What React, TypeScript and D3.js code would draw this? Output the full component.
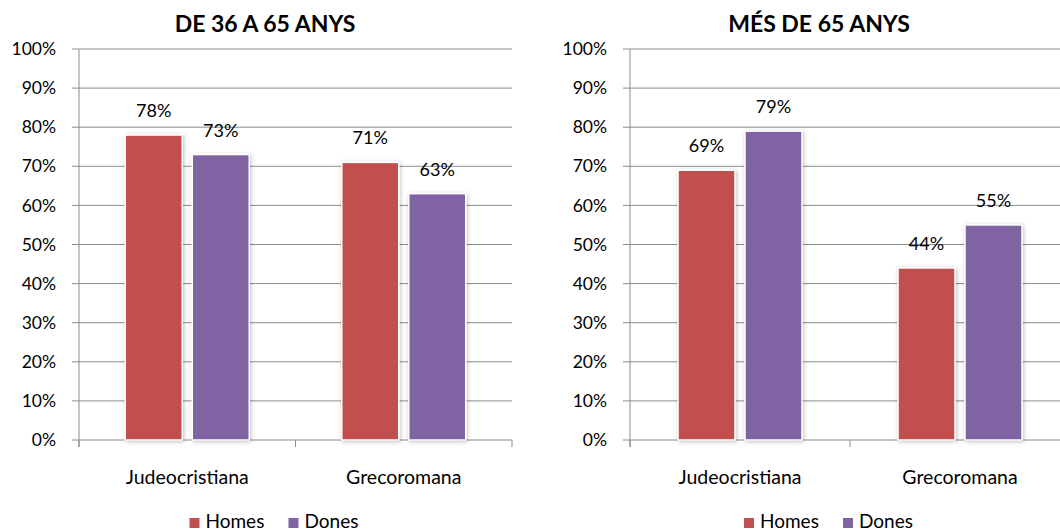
import React from "react";
import * as d3 from "d3";

const categories = ["Judeocristiana", "Grecoromana"];
const seriesNames = ["Homes", "Dones"];
const panelTitles = ["DE 36 A 65 ANYS", "MÉS DE 65 ANYS"];
const homes36to65 = [78, 71];
const dones36to65 = [73, 63];
const homesOver65 = [69, 44];
const donesOver65 = [79, 55];
const yTicks = [0, 10, 20, 30, 40, 50, 60, 70, 80, 90, 100];

const colors = ["#C0504D", "#8064A2"];
const FONT = "Lato, 'Open Sans', sans-serif";
const GRID = "#8c8c8c";

type PanelProps = {
  title: string;
  homes: number[];
  dones: number[];
  x0: number;
  x1: number;
  titleX: number;
};

function Panel({ title, homes, dones, x0, x1, titleX }: PanelProps) {
  const y = d3.scaleLinear().domain([0, 100]).range([440, 49]);
  const xb = d3.scaleBand().domain(categories).range([x0, x1]).paddingInner(0).paddingOuter(0);
  const bw = xb.bandwidth();
  const barW = 57;
  const gap = 10;
  const series = [homes, dones];
  const plotCenter = (x0 + x1) / 2;
  return (
    <g>
      <text x={titleX} y={32} textAnchor="middle" fontFamily={FONT} fontWeight="bold" fontSize={23} fill="#000">
        {title}
      </text>
      {yTicks.map((t) => (
        <g key={t}>
          <line x1={x0 - 7} x2={x1} y1={y(t)} y2={y(t)} stroke={GRID} strokeWidth={1} />
          <text x={x0 - 23} y={y(t)} dy="0.35em" textAnchor="end" fontFamily={FONT} fontSize={17.5} fill="#000">
            {t}%
          </text>
        </g>
      ))}
      <line x1={x0} x2={x0} y1={y(100)} y2={447} stroke={GRID} strokeWidth={1} />
      {[x0, x0 + bw, x1].map((v, i) => (
        <line key={i} x1={v} x2={v} y1={440} y2={447} stroke={GRID} strokeWidth={1} />
      ))}
      {categories.map((c, ci) => {
        const center = (xb(c) as number) + bw / 2;
        const start = center - (2 * barW + gap) / 2;
        return (
          <g key={c}>
            {series.map((s, si) => {
              const bx = start + si * (barW + gap);
              const top = y(s[ci]);
              return (
                <g key={si}>
                  <rect x={bx} y={top} width={barW} height={440 - top} fill={colors[si]} stroke="#fff" strokeWidth={1.5} filter="url(#shadow)" />
                  <text x={bx + barW / 2} y={top - 18} textAnchor="middle" fontFamily={FONT} fontSize={18} fill="#000">
                    {s[ci]}%
                  </text>
                </g>
              );
            })}
            <text x={center} y={484} textAnchor="middle" fontFamily={FONT} fontSize={19.5} fill="#000">
              {c}
            </text>
          </g>
        );
      })}
      <g>
        {seriesNames.map((n, i) => {
          const lx = plotCenter - 106 + i * 99;
          return (
            <g key={n}>
              <rect x={lx} y={518} width={10} height={10} fill={colors[i]} />
              <text x={lx + 16} y={527.5} fontFamily={FONT} fontSize={19} fill="#000">
                {n}
              </text>
            </g>
          );
        })}
      </g>
    </g>
  );
}

export default function App() {
  return (
    <svg width={1060} height={531} style={{ position: "absolute", left: 0, top: 0, background: "#fff" }}>
      <defs>
        <filter id="shadow" x="-20%" y="-10%" width="140%" height="120%">
          <feDropShadow dx="1" dy="1" stdDeviation="2" floodColor="#000" floodOpacity="0.25" />
        </filter>
      </defs>
      <rect width={1060} height={531} fill="#fff" />
      <Panel title={panelTitles[0]} homes={homes36to65} dones={dones36to65} x0={79} x1={512} titleX={265} />
      <Panel title={panelTitles[1]} homes={homesOver65} dones={donesOver65} x0={630} x1={1070} titleX={819} />
    </svg>
  );
}
